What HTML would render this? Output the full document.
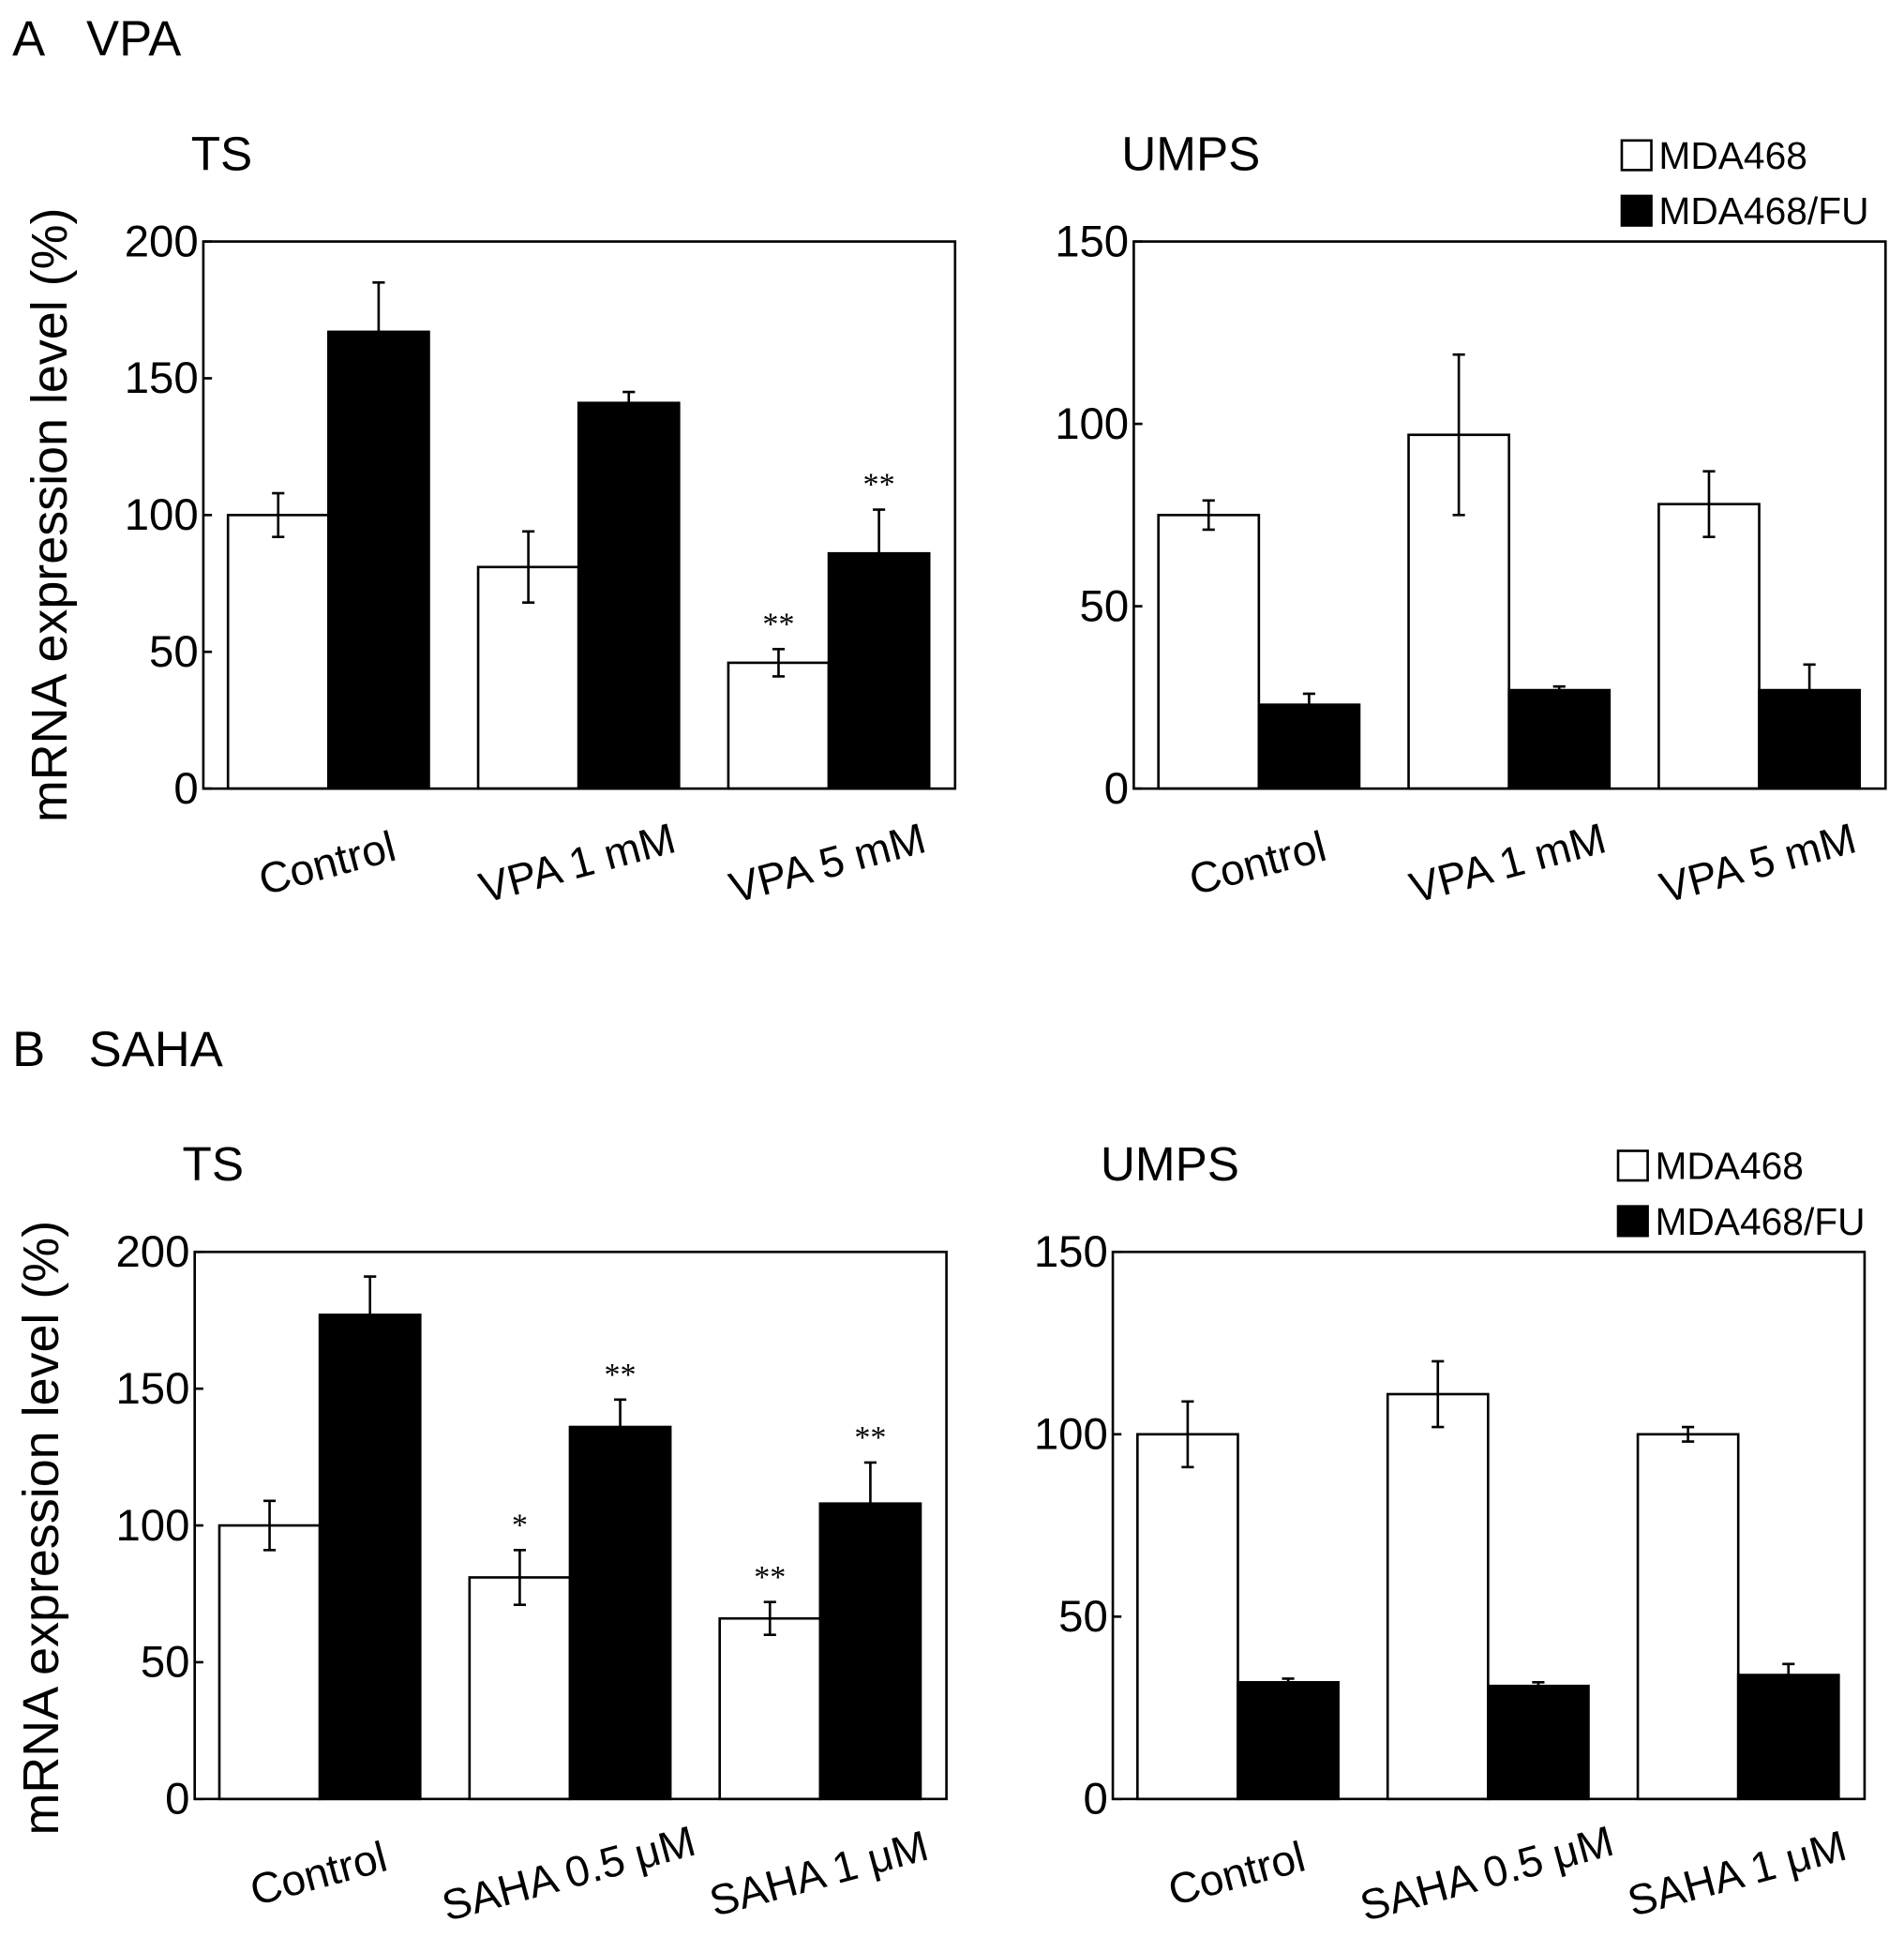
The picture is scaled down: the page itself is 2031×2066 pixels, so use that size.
<!DOCTYPE html>
<html><head><meta charset="utf-8"><style>
html,body{margin:0;padding:0;background:#fff}
svg{display:block}
text{font-family:"Liberation Sans",sans-serif;fill:#000}
</style></head><body>
<svg id="fig" width="2031" height="2066" viewBox="0 0 1545 1572" preserveAspectRatio="none" xmlns="http://www.w3.org/2000/svg">
<text x="10" y="45" font-size="40">A</text>
<text x="70" y="45" font-size="40">VPA</text>
<text x="10" y="865" font-size="40">B</text>
<text x="72" y="865" font-size="40">SAHA</text>
<text x="54" y="418" font-size="41" text-anchor="middle" transform="rotate(-90 54 418)">mRNA expression level (%)</text>
<text x="47" y="1240" font-size="41" text-anchor="middle" transform="rotate(-90 47 1240)">mRNA expression level (%)</text>
</svg>
<script>
const vpaCategories = ["Control", "VPA 1 mM", "VPA 5 mM"];
const sahaCategories = ["Control", "SAHA 0.5 \u03bcM", "SAHA 1 \u03bcM"];
const tsVpaWhite = [100, 81, 46];
const tsVpaWhiteErr = [8, 13, 5];
const tsVpaBlack = [167, 141, 86];
const tsVpaBlackErr = [18, 4, 16];
const tsVpaStars = [["", ""], ["", ""], ["**", "**"]];
const umpsVpaWhite = [75, 97, 78];
const umpsVpaWhiteErr = [4, 22, 9];
const umpsVpaBlack = [23, 27, 27];
const umpsVpaBlackErr = [3, 1, 7];
const tsSahaWhite = [100, 81, 66];
const tsSahaWhiteErr = [9, 10, 6];
const tsSahaBlack = [177, 136, 108];
const tsSahaBlackErr = [14, 10, 15];
const tsSahaStars = [["", ""], ["*", "**"], ["**", "**"]];
const umpsSahaWhite = [100, 111, 100];
const umpsSahaWhiteErr = [9, 9, 2];
const umpsSahaBlack = [32, 31, 34];
const umpsSahaBlackErr = [1, 1, 3];
const tsTicks = [0, 50, 100, 150, 200];
const umpsTicks = [0, 50, 100, 150];
const legendLabels = ["MDA468", "MDA468/FU"];

const svg = document.getElementById('fig');
const NS = 'http://www.w3.org/2000/svg';
function mk(tag, attrs, parent) {
  const e = document.createElementNS(NS, tag);
  for (const k in attrs) e.setAttribute(k, attrs[k]);
  (parent || svg).appendChild(e);
  return e;
}
function panel(id, title, x0, y0, ymax, ticks, cats, white, wErr, black, bErr, stars, legend) {
  const W = 610, H = 444;
  const g = mk('g', {});
  
  
  const yS = v => y0 + H - v / ymax * H;
  const t = mk('text', {x: x0 - 10, y: y0 - 58, 'font-size': 39}, g);
  t.textContent = title;
  
  
  ticks.forEach(v => {
    const tl = mk('text', {x: x0 - 4, y: yS(v) + 12, 'font-size': 36, 'text-anchor': 'end'}, g);
    tl.textContent = v;
    
    
    const tk = mk('line', {x1: x0, x2: x0 + 7, y1: yS(v), y2: yS(v), stroke: '#000', 'stroke-width': 2}, g);
    
    
  });
  const bw = 81.5, step = 203;
  cats.forEach((c, i) => {
    const gx = x0 + 20 + i * step;
    [[white, wErr, '#fff', 0], [black, bErr, '#000', 1]].forEach(([vals, errs, fill, j]) => {
      const bx = gx + j * bw, v = vals[i];
      const r = mk('rect', {x: bx, y: yS(v), width: bw, height: yS(0) - yS(v), fill: fill, stroke: '#000', 'stroke-width': 2}, g);
      
      
      const cx = bx + bw / 2, e = errs[i];
      const lo = j ? v : v - e;
      const eb = mk('path', {d: `M${cx},${yS(lo)}V${yS(v + e)}M${cx - 5},${yS(v + e)}H${cx + 5}` + (j ? '' : `M${cx - 5},${yS(v - e)}H${cx + 5}`), stroke: '#000', 'stroke-width': 2, fill: 'none'}, g);
      
      
      if (stars && stars[i][j]) {
        const s = mk('text', {x: cx, y: yS(v + e) - 12, 'font-size': 26, 'text-anchor': 'middle', style: 'font-family:"Liberation Serif",serif'}, g);
        s.textContent = stars[i][j];
        
        
      }
    });
    const lx = gx + bw + 2, ly = y0 + H + 72;
    const xl = mk('text', {x: lx, y: ly, 'font-size': 35, 'text-anchor': 'middle', transform: `rotate(-15 ${lx} ${ly})`}, g);
    xl.textContent = c;
    
    
  });
  const fr = mk('rect', {x: x0, y: y0, width: W, height: H, fill: 'none', stroke: '#000', 'stroke-width': 2}, g);
  
  
  if (legend) {
    legendLabels.forEach((l, k) => {
      const lx = legend[0], ly = legend[1] + k * 45;
      const sq = mk('rect', {x: lx, y: ly, width: 24, height: 24, fill: k ? '#000' : '#fff', stroke: '#000', 'stroke-width': 2}, g);
      
      
      const lt = mk('text', {x: lx + 30, y: ly + 23, 'font-size': 31}, g);
      lt.textContent = l;
      
      
    });
  }
}
panel('ts-vpa-chart', 'TS', 165, 196, 200, tsTicks, vpaCategories, tsVpaWhite, tsVpaWhiteErr, tsVpaBlack, tsVpaBlackErr, tsVpaStars, null);
panel('umps-vpa-chart', 'UMPS', 920, 196, 150, umpsTicks, vpaCategories, umpsVpaWhite, umpsVpaWhiteErr, umpsVpaBlack, umpsVpaBlackErr, null, [1316, 114]);
panel('ts-saha-chart', 'TS', 158, 1016, 200, tsTicks, sahaCategories, tsSahaWhite, tsSahaWhiteErr, tsSahaBlack, tsSahaBlackErr, tsSahaStars, null);
panel('umps-saha-chart', 'UMPS', 903, 1016, 150, umpsTicks, sahaCategories, umpsSahaWhite, umpsSahaWhiteErr, umpsSahaBlack, umpsSahaBlackErr, null, [1313, 934]);
</script>
</body></html>
